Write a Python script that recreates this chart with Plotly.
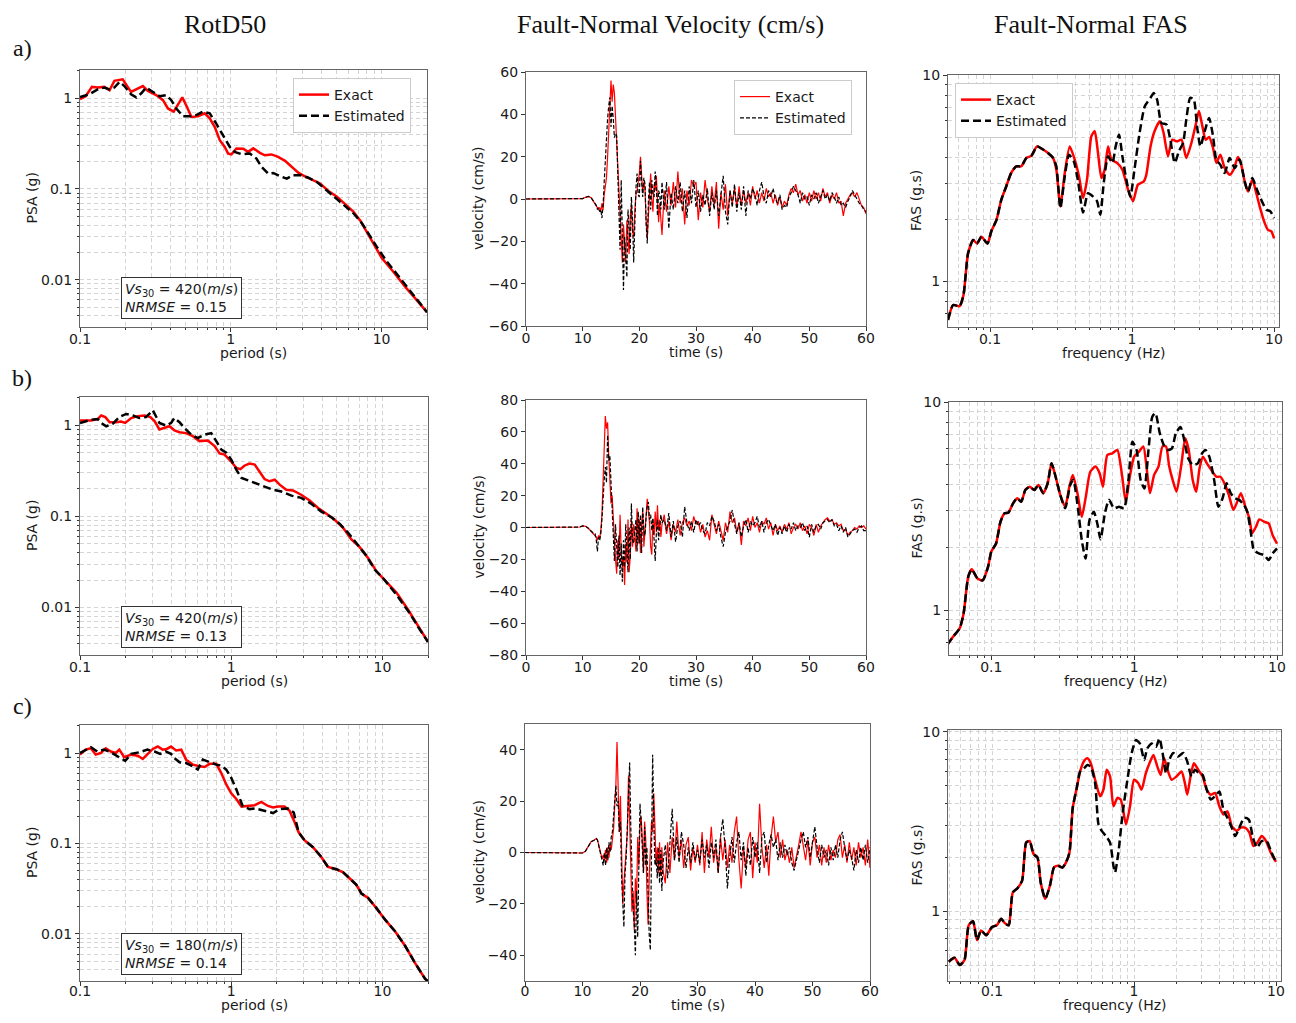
import plotly.graph_objects as go

# ---------------- DATA ----------------
# Column 1: RotD50 PSA (g) vs period (s)
T_A_EXACT = [0.1,0.109,0.12,0.131,0.145,0.157,0.169,0.192,0.218,0.236,0.261,0.282,0.32,0.355,0.383,0.418,0.446,0.477,0.512,0.548,0.606,0.671,0.725,0.783,0.845,0.912,0.96,1.01,1.09,1.21,1.30,1.41,1.56,1.68,1.86,2.06,2.29,2.53,2.80,3.1,3.44,3.91,4.44,5.05,5.73,6.51,7.21,7.98,8.85,10,12.0,14.4,17.2,20]
PSA_A_EXACT = [0.975,1.05,1.33,1.31,1.33,1.22,1.55,1.61,1.17,1.25,1.36,1.2,1.08,0.95,0.77,0.71,0.84,1.02,0.80,0.62,0.63,0.68,0.60,0.48,0.344,0.29,0.245,0.241,0.279,0.277,0.256,0.28,0.25,0.235,0.24,0.226,0.204,0.175,0.151,0.138,0.127,0.115,0.095,0.082,0.068,0.056,0.045,0.0335,0.025,0.0175,0.0122,0.0083,0.0059,0.0044]
T_A_EST = [0.1,0.115,0.131,0.145,0.157,0.169,0.183,0.197,0.218,0.236,0.255,0.275,0.305,0.337,0.373,0.403,0.435,0.482,0.533,0.59,0.654,0.725,0.803,0.889,0.985,1.06,1.18,1.34,1.48,1.6,1.77,1.91,2.12,2.35,2.6,2.88,3.27,3.71,4.22,4.79,5.59,6.51,7.4,8.19,9.3,10.8,13.3,16.4,20]
PSA_A_EST = [1.03,1.1,1.25,1.31,1.25,1.31,1.51,1.36,1.1,1.02,1.13,1.31,1.17,1.05,1.08,0.95,0.77,0.63,0.63,0.65,0.71,0.68,0.52,0.39,0.29,0.256,0.241,0.245,0.216,0.175,0.148,0.15,0.138,0.13,0.142,0.142,0.133,0.12,0.1,0.085,0.068,0.054,0.042,0.032,0.023,0.016,0.0103,0.0067,0.0044]

T_B_EXACT = [0.1,0.118,0.131,0.138,0.147,0.157,0.174,0.187,0.199,0.218,0.241,0.267,0.292,0.311,0.335,0.362,0.39,0.421,0.455,0.503,0.557,0.617,0.7,0.776,0.837,0.903,1.0,1.08,1.15,1.22,1.32,1.43,1.54,1.66,1.79,1.94,2.09,2.31,2.56,2.9,3.3,3.75,4.26,4.83,5.49,6.23,7.07,8.03,9.12,10.4,12.4,14.8,17.2,20]
PSA_B_EXACT = [1.13,1.13,1.17,1.28,1.23,1.08,1.08,1.1,1.06,1.2,1.26,1.28,1.23,1.11,0.9,0.93,0.975,0.88,0.84,0.82,0.76,0.67,0.68,0.59,0.49,0.476,0.40,0.34,0.33,0.36,0.38,0.37,0.31,0.257,0.243,0.253,0.223,0.196,0.193,0.173,0.15,0.124,0.107,0.092,0.075,0.056,0.046,0.035,0.025,0.020,0.0145,0.0094,0.0062,0.0042]
T_B_EST = [0.1,0.118,0.131,0.138,0.149,0.165,0.182,0.202,0.224,0.247,0.273,0.303,0.335,0.371,0.4,0.421,0.455,0.49,0.543,0.601,0.666,0.737,0.796,0.859,0.927,1.0,1.08,1.17,1.29,1.46,1.66,1.89,2.14,2.5,2.9,3.38,3.94,4.6,5.22,5.93,6.72,7.83,8.91,10.1,12.4,15.2,17.7,20]
PSA_B_EST = [1.06,1.15,1.17,1.06,0.975,1.04,1.23,1.33,1.28,1.2,1.23,1.46,1.06,0.99,1.06,1.2,1.08,0.935,0.79,0.725,0.79,0.82,0.67,0.54,0.5,0.42,0.326,0.264,0.249,0.229,0.21,0.196,0.188,0.169,0.16,0.138,0.113,0.098,0.083,0.066,0.051,0.037,0.026,0.021,0.0138,0.0086,0.0057,0.0042]

T_C_EXACT = [0.1,0.109,0.118,0.127,0.137,0.148,0.16,0.172,0.182,0.196,0.218,0.241,0.26,0.279,0.303,0.327,0.352,0.375,0.40,0.432,0.467,0.503,0.557,0.617,0.666,0.72,0.796,0.859,0.927,1.0,1.08,1.17,1.29,1.43,1.58,1.75,1.89,2.04,2.25,2.43,2.63,2.79,3.06,3.47,3.94,4.36,4.95,5.49,6.08,6.72,7.26,8.03,9.12,10.4,12.1,14.1,16.4,19.1,20]
PSA_C_EXACT = [0.96,1.09,1.13,0.96,1.0,1.13,1.04,1.0,1.09,0.9,0.96,0.935,0.86,0.98,1.11,1.18,1.09,1.11,1.18,1.07,1.09,0.845,0.745,0.715,0.70,0.76,0.76,0.60,0.45,0.359,0.31,0.256,0.26,0.265,0.288,0.26,0.25,0.256,0.256,0.23,0.171,0.133,0.108,0.091,0.071,0.055,0.052,0.048,0.041,0.035,0.028,0.025,0.0193,0.0144,0.0107,0.0074,0.0048,0.0032,0.003]
T_C_EST_HEAD = [0.1,0.109,0.118,0.13,0.144,0.16,0.175,0.199,0.218,0.247,0.279,0.311,0.339,0.37,0.40,0.421,0.455,0.503,0.557,0.601,0.649,0.72,0.796,0.859,0.927,1.0,1.08,1.19,1.32,1.44,1.66,1.89,2.09,2.37,2.59]
PSA_C_EST_HEAD = [1.0,1.09,1.16,1.04,1.09,1.02,0.935,0.82,0.98,1.02,1.09,1.04,0.98,1.04,0.98,0.88,0.79,0.775,0.715,0.657,0.845,0.79,0.745,0.727,0.657,0.533,0.397,0.26,0.24,0.244,0.23,0.217,0.24,0.244,0.22]

# Column 2: Fault-normal velocity (cm/s); samples: pre-event times, then 0.2 s steps from 12.2 s, then 0.4 s steps from 24.4 s
T_PRE = [0, 5, 9, 9.5, 10, 10.5, 11, 11.5, 12]
MAIN_T0, MAIN_DT = 12.2, 0.2
TAIL_T0, TAIL_DT = 24.4, 0.4

V_A_EXACT_PRE = [0,0,0,0,0.2,0.8,1.2,0.6,-1.5]
V_A_EXACT_MAIN = [-2.5,-3.5,-4.5,-5,-4,-6,-2,-5,2,6, 10,20,35,48,56,46,54,50,38,28, 18,8,-5,-20,-30,-12,-25,-30,-10,-20, -26,-8,-3,-15,-18,-6,2,4,8,12, 20,12,3,8,5,-10,-18,-8,4,12, 0,-6,7,4,11,-4,-11,-2,-10,-17]
V_A_EXACT_TAIL = [4,-6,6,-3,8,-4,13,-2,5,-12, 4,-3,9,6,8,-10,3,-4,9,0, -6,6,-3,8,-14,3,-5,7,-8,4, -2,5,-4,6,-3,4,-2,3,-3,6, 0,4,-2,3,-1,5,1,3,-2,2, -3,1,-4,-1,-3,2,5,3,7,2, 4,-1,2,-2,3,-1,4,0,3,-1, 5,1,3,-2,2,0,3,-2,-1,-8, -2,0,2,3,1,3,0,-3,-4,-7]
V_A_EST_PRE = [0,0,0,0,0.2,0.8,1.2,0.6,-1.5]
V_A_EST_MAIN = [-2,-3,-5,-4,-6,-5,-9,-3,8,20, 28,38,44,48,34,44,38,29,31,30, 12,-6,-24,9,-20,-43,-18,-30,-37,-5, -15,-24,1,-10,-30,-5,5,12,2,1, 18,8,1,10,7,-12,-21,-1,8,-5, 9,2,1,13,6,-8,4,2,-5,8]
V_A_EST_TAIL = [-5,8,-14,3,-5,6,-2,8,-6,4, -9,6,-2,9,-4,4,-6,2,-3,5, -8,3,-5,4,-8,2,11,-6,-12,4, -4,7,-6,3,-5,6,-8,4,0,5, 2,-3,4,8,1,-2,4,1,5,0, -2,2,-5,-3,-4,1,3,6,4,2, -2,3,0,1,-3,2,0,3,-2,1, 4,0,2,-1,3,1,-2,1,-3,-2, -4,-1,1,4,2,0,-2,-3,-5,-6]

V_B_EXACT_PRE = [0,0,0,0.3,1.0,0.8,-0.5,-2.5,-4]
V_B_EXACT_MAIN = [-5,-6,-8,-5,-7,-2,8,30,55,70, 62,66,45,30,15,20,5,-10,-20,-29, -8,-20,8,-15,-25,-18,-36,-10,-22,5, -28,-18,5,-12,2,-5,-15,12,-10,5, -16,2,10,-12,0,12,18,10,3,-12, -17,5,-5,10,-3,14,-2,5,-6,2]
V_B_EXACT_TAIL = [8,-4,4,-8,2,-3,5,-5,3,6, 1,4,-2,7,2,4,-3,2,-6,-2, -8,8,2,-4,4,-2,-8,3,-3,10, 3,6,-3,3,-11,4,1,6,-2,7, 0,3,-3,4,2,6,-1,3,-5,2, -2,1,-3,2,-1,3,-4,0,2,-1, 3,-2,1,-4,2,0,-5,2,-3,1, 3,5,6,4,5,2,3,1,2,-2, -1,-5,-3,-2,0,-1,1,0,1,-1]
V_B_EST_PRE = [0,0,0,0.3,1.0,0.8,-0.5,-2.5,-4]
V_B_EST_MAIN = [-4,-8,-15,-6,-8,-4,5,22,30,38, 28,58,42,45,28,12,-10,-21,2,-12, -25,-5,-30,-10,-34,-8,-25,2,-12,-28, 0,-20,15,-8,-10,0,5,-15,10,-10, 8,-16,13,-2,-5,7,14,16,5,8, -2,6,-10,-21,-4,5,-8,2,8,3]
V_B_EST_TAIL = [5,-2,9,-6,4,-9,1,4,-6,13, 3,-2,4,-3,5,1,3,-2,-4,3, 1,7,4,-2,2,-6,-12,-3,0,4, 11,2,-4,3,-6,1,5,-3,4,1, 3,7,0,4,-3,3,5,1,-2,2, -5,0,-4,1,-3,2,-1,3,-2,1, 0,3,-2,1,-6,2,-3,1,2,-1, 3,4,5,3,5,1,2,-2,1,-3, 0,-6,-4,-2,-1,-3,0,1,-2,-2]

V_C_EXACT_PRE = [0,0,0,0,-0.2,0.5,2.5,4.2,4.8]
V_C_EXACT_MAIN = [5.0,5.4,5.0,3.5,1.5,-0.5,-2.5,-1,-3,1, -4,2,-2,3,1,5,9,18,26,43, 28,8,22,5,-20,-12,-5,-2,8,30, 12,-6,-23,-15,-30,-10,-20,6,-5,10, 14,5,-8,12,5,-15,-28,-10,2,12, 8,23,10,-5,2,-8,4,-9,2,-7]
V_C_EXACT_TAIL = [-12,4,-8,6,-3,12,-2,5,-6,3, 6,-7,2,-4,3,-5,8,-8,5,-2, 10,-4,2,-8,6,-3,5,-6,3,-4, 8,14,-3,-14,2,-6,5,8,-10,4, -4,19,2,-6,3,-9,6,14,4,8, -2,5,-3,1,-4,2,-6,-2,3,8, 2,-3,5,-5,4,6,-2,3,-5,2, -4,3,-3,1,-2,5,7,-2,3,-4, 4,-3,2,-5,4,-2,2,-5,5,-6]
V_C_EST_PRE = [0,0,0,0,-0.2,0.5,2.5,4.2,4.8]
V_C_EST_MAIN = [5.0,5.4,4.8,3.2,1.0,-1,-3,-5,0,-5, 2,-3,4,0,6,8,14,22,26,18, 20,8,12,-10,-22,-29,-8,-2,10,20, 35,10,-10,-22,-28,-40,-15,-33,-5,19, 12,3,-8,10,-5,2,-20,-32,-38,10, 38,12,-5,-2,-10,2,-12,1,-15,-4]
V_C_EST_TAIL = [3,-10,4,17,-3,6,-4,8,3,-6, 2,-4,4,-3,1,-4,5,-2,3,-6, 4,-2,5,-8,6,13,2,-14,-2,6, -4,4,8,-3,4,-9,2,-5,6,-2, 4,-8,6,8,-4,3,7,2,5,-3, 4,-2,3,-1,2,-4,-7,-3,2,5, 8,2,6,-2,4,10,2,-4,3,-2, 1,-5,2,-3,3,-2,5,8,2,-3, 1,-2,-7,1,-4,2,-3,3,-4,2]

# Column 3: Fault-normal FAS (g.s) vs frequency (Hz); shared low-frequency part + per-series rest
F_A_COMMON = [0.0506,0.055,0.061,0.065,0.070,0.076,0.081,0.087,0.096,0.102,0.111,0.12,0.13,0.141,0.153,0.166,0.18,0.196,0.214,0.233,0.256,0.278]
FAS_A_COMMON = [0.651,0.77,0.76,0.86,1.37,1.59,1.53,1.65,1.53,1.75,1.99,2.49,2.89,3.36,3.62,3.62,3.97,4.08,4.52,4.39,4.2,3.97]
F_A_EXACT = [0.293,0.313,0.336,0.364,0.395,0.423,0.452,0.482,0.517,0.546,0.576,0.608,0.642,0.678,0.715,0.784,0.855,0.937,1.016,1.10,1.21,1.26,1.35,1.44,1.57,1.67,1.79,1.92,2.07,2.23,2.41,2.62,2.81,2.96,3.13,3.3,3.49,3.72,3.92,4.19,4.49,4.87,5.19,5.57,5.88,6.21,6.56,7.04,7.5,7.93,8.6,9.07,9.58,10]
FAS_A_EXACT = [3.49,2.31,3.36,4.52,3.9,3.24,2.54,3.12,5.06,5.35,4.2,3.18,3.49,4.52,3.9,3.76,3.49,2.79,2.45,2.95,3.06,3.29,4.52,5.35,5.98,5.24,4.05,4.87,4.78,4.87,3.97,4.7,5.76,6.7,5.65,4.87,5.02,4.44,3.76,4.12,3.55,3.29,3.49,4.01,3.68,3.06,2.73,3.12,2.68,2.31,1.92,1.78,1.75,1.62]
F_A_EST = [0.293,0.313,0.336,0.36,0.389,0.417,0.452,0.49,0.532,0.567,0.598,0.632,0.678,0.727,0.767,0.81,0.855,0.912,0.973,1.04,1.13,1.23,1.35,1.42,1.5,1.61,1.75,1.86,2.0,2.14,2.29,2.41,2.57,2.72,2.87,3.03,3.25,3.49,3.72,3.92,4.19,4.49,4.87,5.28,5.72,6.21,6.56,7.04,7.5,8.13,8.83,9.42,10]
FAS_A_EST = [3.62,2.27,3.24,4.12,3.83,3.06,2.16,2.68,2.58,2.45,2.11,3.0,4.05,3.76,4.52,5.15,4.05,3.12,2.58,3.49,5.24,7.08,7.77,8.2,7.63,5.87,5.76,4.87,3.76,4.28,4.7,6.09,7.77,7.63,5.65,4.52,5.35,6.2,5.06,3.9,3.68,3.36,3.97,3.55,3.9,3.06,2.73,3.18,2.84,2.49,2.23,2.19,2.03]

F_B_COMMON = [0.049,0.054,0.06,0.064,0.069,0.073,0.08,0.087,0.095,0.1,0.108,0.116,0.124,0.132,0.142,0.152,0.162,0.173,0.186,0.2,0.214,0.231,0.248,0.264,0.282]
FAS_B_COMMON = [0.678,0.744,0.816,0.964,1.45,1.57,1.42,1.39,1.62,1.91,2.09,2.66,2.92,2.95,3.26,3.45,3.32,3.78,3.92,3.78,4.0,3.65,4.07,5.08,4.38]
F_B_EXACT = [0.304,0.329,0.352,0.372,0.401,0.43,0.459,0.493,0.536,0.573,0.605,0.649,0.704,0.763,0.819,0.874,0.932,1.0,1.08,1.16,1.22,1.29,1.38,1.48,1.58,1.67,1.76,1.86,1.98,2.13,2.28,2.41,2.57,2.72,2.87,3.03,3.23,3.47,3.76,4.01,4.29,4.6,4.95,5.21,5.59,6.0,6.41,6.69,7.13,7.52,8.15,8.74,9.31,10]
FAS_B_EXACT = [3.58,3.14,3.92,4.47,3.65,2.81,3.51,4.63,4.9,4.55,3.92,5.57,5.68,5.89,4.55,3.32,4.38,5.47,5.78,6.13,4.9,3.65,4.47,4.9,6.13,6.13,4.9,4.23,3.71,4.9,6.7,5.89,4.23,3.71,4.81,5.47,5.08,4.72,4.38,4.38,4.07,3.58,3.03,3.26,3.65,3.14,2.76,2.34,2.52,2.73,2.66,2.61,2.30,2.09]
F_B_EST = [0.304,0.329,0.357,0.375,0.403,0.43,0.457,0.487,0.522,0.552,0.582,0.624,0.667,0.723,0.784,0.85,0.912,0.973,1.04,1.11,1.18,1.26,1.34,1.41,1.51,1.61,1.73,1.84,1.96,2.11,2.23,2.39,2.57,2.79,2.99,3.16,3.36,3.63,3.89,4.16,4.44,4.74,5.08,5.43,5.88,6.2,6.55,6.9,7.52,8.15,8.74,9.31,10]
FAS_B_EST = [3.58,3.09,4.0,4.23,3.14,2.17,1.77,2.71,2.97,2.61,2.19,2.92,3.39,3.09,3.14,3.09,4.23,6.45,5.89,4.23,3.85,5.89,8.52,8.85,7.12,6.24,5.89,6.0,7.1,7.6,6.7,5.37,4.99,5.08,5.68,5.89,5.47,4.23,3.14,3.45,4.07,3.65,3.45,3.39,3.2,2.97,2.38,1.94,1.87,1.84,1.74,1.87,1.98]

F_C_COMMON = [0.0496,0.0544,0.0593,0.064,0.0685,0.0735,0.0784,0.0837,0.091,0.1,0.108,0.116,0.122,0.131,0.14,0.151,0.163,0.174,0.184,0.196,0.209,0.22,0.237,0.256,0.273,0.292,0.313,0.332,0.351,0.37,0.395,0.417]
FAS_C_COMMON = [0.522,0.549,0.50,0.533,0.833,0.877,0.688,0.78,0.733,0.815,0.833,0.907,0.862,0.833,1.27,1.34,1.48,2.41,2.46,2.08,1.99,1.45,1.17,1.39,1.75,1.79,1.75,1.87,2.12,3.76,4.86,6.0]
F_C_EXACT = [0.445,0.469,0.496,0.532,0.577,0.609,0.642,0.678,0.716,0.764,0.806,0.878,0.937,1.0,1.07,1.13,1.21,1.3,1.37,1.46,1.54,1.63,1.72,1.84,1.99,2.16,2.28,2.37,2.5,2.64,2.83,3.04,3.25,3.47,3.72,3.99,4.26,4.55,4.88,5.29,5.64,6.05,6.49,6.92,7.39,7.92,8.5,9.17,10]
FAS_C_EXACT = [6.88,7.11,6.67,5.4,4.37,4.76,6.14,5.63,3.84,4.28,4.19,3.05,3.84,5.4,5.18,4.76,5.87,6.83,7.43,6.39,5.75,7.11,6.14,5.4,5.63,6.0,5.18,4.46,5.63,6.67,6.14,5.63,4.76,4.46,4.56,3.84,3.46,3.6,2.98,2.8,2.92,2.92,2.74,2.31,2.41,2.62,2.46,2.12,1.88]
F_C_EST = [0.445,0.469,0.496,0.532,0.562,0.592,0.635,0.678,0.716,0.735,0.776,0.832,0.898,0.963,1.033,1.1,1.18,1.24,1.33,1.43,1.51,1.59,1.68,1.77,1.89,2.04,2.22,2.37,2.54,2.68,2.87,3.04,3.25,3.47,3.72,3.99,4.26,4.55,4.88,5.16,5.52,5.96,6.43,6.87,7.34,7.92,8.58,9.3,10]
FAS_C_EST = [6.26,6.53,6.39,5.18,3.05,2.8,2.62,2.41,1.79,1.64,2.12,3.53,5.4,7.62,8.99,8.6,6.96,8.08,8.6,8.25,9.18,7.62,5.87,6.96,7.62,7.27,7.62,6.83,5.63,6.14,5.87,5.75,4.76,4.19,4.37,4.65,3.68,3.31,2.92,2.62,2.92,3.31,3.24,2.57,2.26,2.46,2.46,2.12,1.88]

ROW_LABELS = ["a)", "b)", "c)"]
COL_TITLES = ["RotD50", "Fault-Normal Velocity (cm/s)", "Fault-Normal FAS"]
VS30 = [420, 420, 180]
NRMSE = [0.15, 0.13, 0.14]
VEL_RANGES = [(-60, 60, 20), (-80, 80, 20), (-50, 50, 20)]

# ---------------- HELPERS ----------------
# The page body has an 8 px margin; the figure fills the rest of the 1296x1023 window.
OFF = 8
W, H = 1296 - 2 * OFF, 1023 - 2 * OFF
RED = "#ff0000"
BLACK = "#000000"


def px_x(p):
    return (p - OFF) / W


def px_y(p):
    return 1 - (p - OFF) / H


def pair(x, y):
    n = min(len(x), len(y))
    return list(x[:n]), list(y[:n])


def vel_series(pre, main, tail):
    t = list(T_PRE[:len(pre)])
    v = list(pre[:len(t)])
    t += [round(MAIN_T0 + MAIN_DT * i, 3) for i in range(len(main))]
    v += list(main)
    t += [round(TAIL_T0 + TAIL_DT * i, 3) for i in range(len(tail))]
    v += list(tail)
    return t, v


# panel boxes in window pixels: left, right, top, bottom
PANELS = [
    [(80, 427, 70, 327), (526, 866, 72, 326), (948, 1279, 75, 327)],
    [(80, 428, 397, 655), (526, 866, 400, 655), (949, 1282, 402, 655)],
    [(80, 428, 725, 981), (525, 870, 724, 981), (948, 1281, 730, 981)],
]
TICK_STANDOFF = [-5, -5, -7]
FAS_YRANGE = [(-0.22, 1.001), (-0.216, 1.001), (-0.39, 1.01)]

psa_series = [
    (pair(T_A_EXACT, PSA_A_EXACT), pair(T_A_EST, PSA_A_EST)),
    (pair(T_B_EXACT, PSA_B_EXACT), pair(T_B_EST, PSA_B_EST)),
]
_tc, _pc = pair(T_C_EXACT, PSA_C_EXACT)
_th, _ph = pair(T_C_EST_HEAD, PSA_C_EST_HEAD)
_tail_idx = [i for i, t in enumerate(_tc) if t > 2.7]
psa_series.append((
    (_tc, _pc),
    (_th + [_tc[i] for i in _tail_idx], _ph + [_pc[i] for i in _tail_idx]),
))

vel_series_all = [
    (vel_series(V_A_EXACT_PRE, V_A_EXACT_MAIN, V_A_EXACT_TAIL), vel_series(V_A_EST_PRE, V_A_EST_MAIN, V_A_EST_TAIL)),
    (vel_series(V_B_EXACT_PRE, V_B_EXACT_MAIN, V_B_EXACT_TAIL), vel_series(V_B_EST_PRE, V_B_EST_MAIN, V_B_EST_TAIL)),
    (vel_series(V_C_EXACT_PRE, V_C_EXACT_MAIN, V_C_EXACT_TAIL), vel_series(V_C_EST_PRE, V_C_EST_MAIN, V_C_EST_TAIL)),
]


def fas(fc, ac, fr, ar):
    a, b = pair(fc, ac)
    c, d = pair(fr, ar)
    return a + c, b + d


fas_series = [
    (fas(F_A_COMMON, FAS_A_COMMON, F_A_EXACT, FAS_A_EXACT), fas(F_A_COMMON, FAS_A_COMMON, F_A_EST, FAS_A_EST)),
    (fas(F_B_COMMON, FAS_B_COMMON, F_B_EXACT, FAS_B_EXACT), fas(F_B_COMMON, FAS_B_COMMON, F_B_EST, FAS_B_EST)),
    (fas(F_C_COMMON, FAS_C_COMMON, F_C_EXACT, FAS_C_EXACT), fas(F_C_COMMON, FAS_C_COMMON, F_C_EST, FAS_C_EST)),
]

TICKFONT = dict(family="DejaVu Sans", size=14, color="#1a1a1a")
GRIDC = "#d4d4d4"
GDASH = "4px,3px"
base_axis = dict(showline=True, mirror=True, linecolor="#666666", linewidth=1,
                 ticks="outside", ticklen=4, tickwidth=1, tickcolor="#333333",
                 tickfont=TICKFONT, zeroline=False, fixedrange=True)


def log_minor(lo_exp, hi_exp, lo_val, hi_val):
    vals = []
    for e in range(lo_exp, hi_exp + 1):
        for m in range(2, 10):
            v = m * 10 ** e
            if lo_val <= v <= hi_val:
                vals.append(round(v, 6))
    return vals


def minor_cfg(vals):
    return dict(tickmode="array", tickvals=vals, showgrid=True, gridcolor=GRIDC, griddash=GDASH,
                gridwidth=1, ticks="outside", ticklen=2, tickcolor="#333333")


fig = go.Figure()
layout = dict(width=W, height=H, margin=dict(l=0, r=0, t=0, b=0), autosize=False,
              paper_bgcolor="white", plot_bgcolor="white",
              font=dict(family="DejaVu Sans", size=14, color="#1a1a1a"),
              showlegend=True, annotations=[], template="none")

legend_pos = [(293, 78), (734, 80), (955, 83)]
legend_names = ["legend", "legend2", "legend3"]
for lname, (lx, ly) in zip(legend_names, legend_pos):
    layout[lname] = dict(x=px_x(lx), y=px_y(ly), xanchor="left", yanchor="top",
                         bgcolor="white", bordercolor="#cccccc", borderwidth=1,
                         font=dict(family="DejaVu Sans", size=14, color="#1a1a1a"),
                         itemwidth=30, tracegroupgap=0)

for r in range(3):
    for c in range(3):
        k = r * 3 + c + 1
        xa = "x" if k == 1 else f"x{k}"
        ya = "y" if k == 1 else f"y{k}"
        xkey = "xaxis" if k == 1 else f"xaxis{k}"
        ykey = "yaxis" if k == 1 else f"yaxis{k}"
        left, right, top, bottom = PANELS[r][c]
        xdom = [px_x(left), px_x(right)]
        ydom = [px_y(bottom), px_y(top)]
        show = (r == 0)
        lg = legend_names[c]
        sto = TICK_STANDOFF[r]

        if c == 0:
            (tx, px), (te, pe) = psa_series[r]
            fig.add_trace(go.Scatter(x=tx, y=px, mode="lines", name="Exact",
                                     line=dict(color=RED, width=2.5), xaxis=xa, yaxis=ya,
                                     showlegend=show, legend=lg))
            fig.add_trace(go.Scatter(x=te, y=pe, mode="lines", name="Estimated",
                                     line=dict(color=BLACK, width=2.5, dash="8px,4px"), xaxis=xa, yaxis=ya,
                                     showlegend=show, legend=lg))
            layout[xkey] = dict(base_axis, domain=xdom, anchor=ya, type="log", range=[-1, 1.301],
                                tickmode="array", tickvals=[0.1, 1, 10], ticktext=["0.1", "1", "10"],
                                ticklabelstandoff=sto,
                                showgrid=True, gridcolor=GRIDC, griddash=GDASH, gridwidth=1,
                                minor=minor_cfg(log_minor(-1, 1, 0.1, 20)))
            layout[ykey] = dict(base_axis, domain=ydom, anchor=xa, type="log", range=[-2.52, 0.31],
                                tickmode="array", tickvals=[0.01, 0.1, 1], ticktext=["0.01", "0.1", "1"],
                                showgrid=True, gridcolor=GRIDC, griddash=GDASH, gridwidth=1,
                                minor=minor_cfg(log_minor(-3, 0, 0.003, 2.0)))
            box_top = [277, 606, 933][r]
            layout["annotations"].append(dict(
                xref="paper", yref="paper", x=px_x(121), y=px_y(box_top), xanchor="left", yanchor="top",
                text=f"<i>Vs</i><sub>30</sub> = {VS30[r]}(<i>m</i>/<i>s</i>)<br><i>NRMSE</i> = {NRMSE[r]:.2f}",
                showarrow=False, align="left", bgcolor="white", bordercolor="#333333", borderwidth=1,
                borderpad=3, font=dict(family="DejaVu Sans", size=14, color="#1a1a1a")))
            ytitle, xtitle = "PSA (g)", "period (s)"
            ytx = 32
        elif c == 1:
            (tx, vx), (te, ve) = vel_series_all[r]
            fig.add_trace(go.Scatter(x=tx, y=vx, mode="lines", name="Exact",
                                     line=dict(color=RED, width=1.2), xaxis=xa, yaxis=ya,
                                     showlegend=show, legend=lg))
            fig.add_trace(go.Scatter(x=te, y=ve, mode="lines", name="Estimated",
                                     line=dict(color=BLACK, width=1.2, dash="4px,2px"), xaxis=xa, yaxis=ya,
                                     showlegend=show, legend=lg))
            lo, hi, step = VEL_RANGES[r]
            layout[xkey] = dict(base_axis, domain=xdom, anchor=ya, range=[0, 60], tickmode="linear",
                                tick0=0, dtick=10, showgrid=False, ticklabelstandoff=sto)
            layout[ykey] = dict(base_axis, domain=ydom, anchor=xa, range=[lo, hi], tickmode="linear",
                                tick0=0, dtick=step, showgrid=False)
            ytitle, xtitle = "velocity (cm/s)", "time (s)"
            ytx = 478
        else:
            (fx, ax_), (fe, ae) = fas_series[r]
            fig.add_trace(go.Scatter(x=fx, y=ax_, mode="lines", name="Exact",
                                     line=dict(color=RED, width=2.5, shape="spline", smoothing=0.6),
                                     xaxis=xa, yaxis=ya, showlegend=show, legend=lg))
            fig.add_trace(go.Scatter(x=fe, y=ae, mode="lines", name="Estimated",
                                     line=dict(color=BLACK, width=2.5, dash="8px,4px", shape="spline", smoothing=0.6),
                                     xaxis=xa, yaxis=ya, showlegend=show, legend=lg))
            xr = [-1.296, 1.035] if r < 2 else [-1.31, 1.035]
            yr = FAS_YRANGE[r]
            layout[xkey] = dict(base_axis, domain=xdom, anchor=ya, type="log", range=xr,
                                tickmode="array", tickvals=[0.1, 1, 10], ticktext=["0.1", "1", "10"],
                                ticklabelstandoff=sto,
                                showgrid=True, gridcolor=GRIDC, griddash=GDASH, gridwidth=1,
                                minor=minor_cfg(log_minor(-2, 1, 0.05, 10.8)))
            layout[ykey] = dict(base_axis, domain=ydom, anchor=xa, type="log", range=list(yr),
                                tickmode="array", tickvals=[1, 10], ticktext=["1", "10"],
                                showgrid=True, gridcolor=GRIDC, griddash=GDASH, gridwidth=1,
                                minor=minor_cfg(log_minor(-1, 0, 0.4, 10)))
            ytitle, xtitle = "FAS (g.s)", "frequency (Hz)"
            ytx = 916

        if r < 2:
            xt = dict(y=px_y(bottom + 26), yanchor="middle")
        else:
            xt = dict(y=0, yanchor="bottom")
        layout["annotations"].append(dict(
            xref="paper", yref="paper", x=px_x((left + right) / 2), xanchor="center",
            text=xtitle, showarrow=False,
            font=dict(family="DejaVu Sans", size=14, color="#1a1a1a"), **xt))
        layout["annotations"].append(dict(
            xref="paper", yref="paper", x=px_x(ytx), y=px_y((top + bottom) / 2),
            xanchor="center", yanchor="middle", text=ytitle, showarrow=False, textangle=-90,
            font=dict(family="DejaVu Sans", size=14, color="#1a1a1a")))

for cx, txt in zip([225, 670, 1091], COL_TITLES):
    layout["annotations"].append(dict(
        xref="paper", yref="paper", x=px_x(cx), y=1, xanchor="center", yanchor="top",
        text=txt, showarrow=False, font=dict(family="Liberation Serif", size=26, color="#111111")))
for ry, txt in zip([48, 378, 706], ROW_LABELS):
    layout["annotations"].append(dict(
        xref="paper", yref="paper", x=px_x(22), y=px_y(ry), xanchor="center", yanchor="middle",
        text=txt, showarrow=False, font=dict(family="Liberation Serif", size=24, color="#111111")))

fig.update_layout(**layout)
fig.write_html("out.html")
